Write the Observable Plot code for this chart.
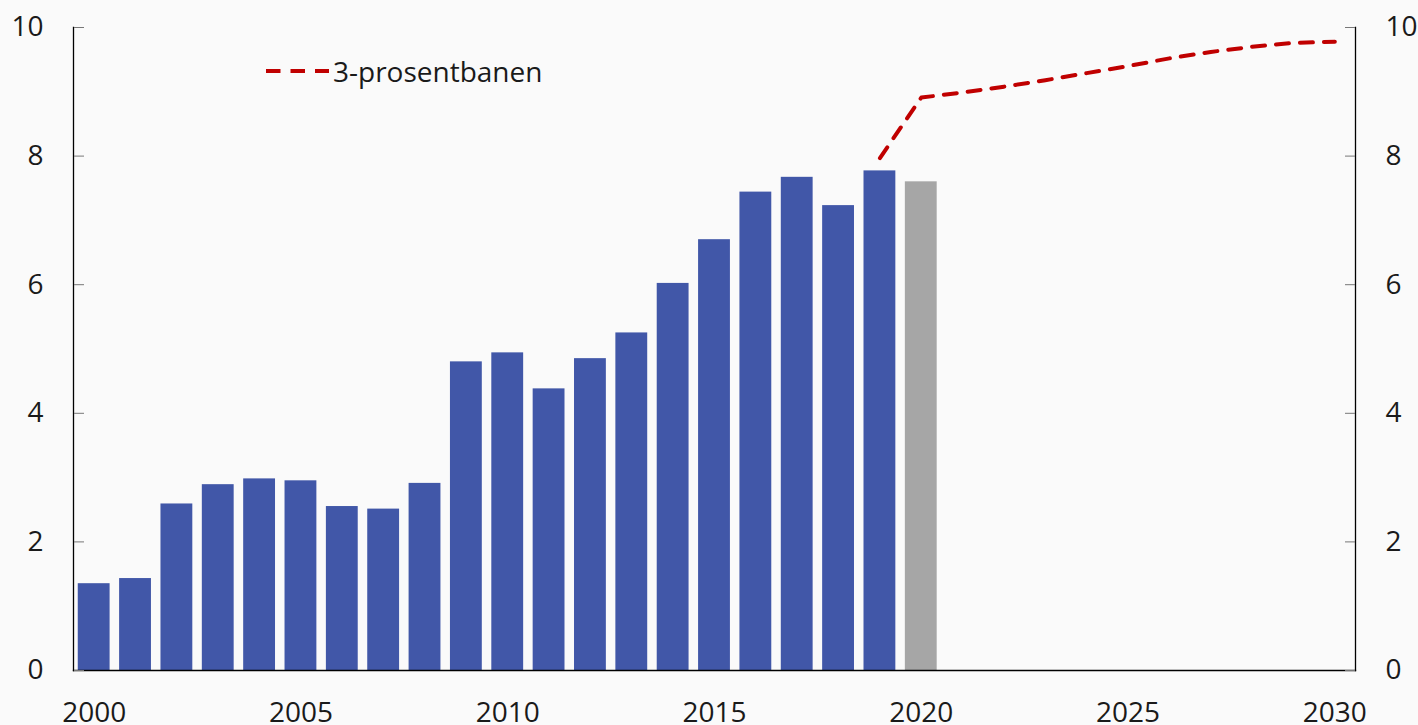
<!DOCTYPE html>
<html>
<head>
<meta charset="utf-8">
<script src="https://cdn.jsdelivr.net/npm/d3@7"></script>
<script src="https://cdn.jsdelivr.net/npm/@observablehq/plot@0.6"></script>
<style>
  html, body { margin: 0; padding: 0; background: #fafafa; }
  #wrap { position: relative; width: 1418px; height: 725px; font-family: "Open Sans", sans-serif; }
  #legend { position: absolute; left: 266px; top: 53px; height: 36px; display: flex; align-items: center; font-size: 28px; color: #1a1a1a; }
  #legend svg { display: block; margin-right: 4px; }
</style>
</head>
<body>
<div id="wrap">
  <div id="chart"></div>
  <div id="legend">
    <svg width="63" height="8"><line x1="0" y1="4" x2="63" y2="4" stroke="#c00000" stroke-width="4" stroke-dasharray="14.5,10"/></svg>
    <span>3-prosentbanen</span>
  </div>
</div>
<script>
// Data
const barYears = [2000, 2001, 2002, 2003, 2004, 2005, 2006, 2007, 2008, 2009, 2010,
                  2011, 2012, 2013, 2014, 2015, 2016, 2017, 2018, 2019];
const barValues = [1.35, 1.43, 2.59, 2.89, 2.98, 2.95, 2.55, 2.51, 2.91, 4.80, 4.94,
                   4.38, 4.85, 5.25, 6.02, 6.70, 7.44, 7.67, 7.23, 7.77];
const estYears = [2020];
const estValues = [7.60];
const pathYears = [2019, 2020, 2021, 2022, 2023, 2024, 2025, 2026, 2027, 2028, 2029, 2030];
const pathValues = [7.97, 8.91, 8.99, 9.08, 9.18, 9.29, 9.40, 9.52, 9.62, 9.70, 9.76, 9.78];
const allYears = [2000, 2001, 2002, 2003, 2004, 2005, 2006, 2007, 2008, 2009, 2010,
                  2011, 2012, 2013, 2014, 2015, 2016, 2017, 2018, 2019, 2020,
                  2021, 2022, 2023, 2024, 2025, 2026, 2027, 2028, 2029, 2030];
const xTicks = [2000, 2005, 2010, 2015, 2020, 2025, 2030];
const yTicks = [0, 2, 4, 6, 8, 10];

const bars = barYears.map((year, i) => ({year, value: barValues[i]}));
const est = estYears.map((year, i) => ({year, value: estValues[i]}));
const path = pathYears.map((year, i) => ({year, value: pathValues[i]}));

const W = 1418, H = 725, ML = 73, MR = 63, MT = 27, MB = 55;
const plotW = W - ML - MR;

const chart = Plot.plot({
  width: W, height: H,
  marginLeft: ML, marginRight: MR, marginTop: MT, marginBottom: MB,
  style: {background: "#fafafa", fontFamily: "Open Sans", fontSize: "28px", color: "#1a1a1a"},
  x: {type: "band", domain: allYears, paddingInner: 0.23, paddingOuter: 0.115, round: false, axis: null},
  y: {domain: [0, 10], axis: null},
  marks: [
    Plot.barY(bars, {x: "year", y: "value", fill: "#4157a8"}),
    Plot.barY(est, {x: "year", y: "value", fill: "#a6a6a6"}),
    Plot.line(path, {x: "year", y: "value", stroke: "#c00000", strokeWidth: 4, strokeDasharray: "13,11"}),
    Plot.frame({anchor: "left", stroke: "#000", strokeWidth: 1.3}),
    Plot.frame({anchor: "right", stroke: "#000", strokeWidth: 1.3}),
    Plot.frame({anchor: "bottom", stroke: "#000", strokeWidth: 1.3}),
    // inward ticks
    Plot.axisY(yTicks, {anchor: "right", tickSize: 10, fill: "none", stroke: "#777", dx: -plotW, label: null}),
    Plot.axisY(yTicks, {anchor: "left", tickSize: 10, fill: "none", stroke: "#777", dx: plotW, label: null}),
    // labels
    Plot.axisY(yTicks, {anchor: "left", tickSize: 0, tickPadding: 30, fontSize: 28, tickFormat: d3.format("d"), label: null}),
    Plot.axisY(yTicks, {anchor: "right", tickSize: 0, tickPadding: 30, fontSize: 28, tickFormat: d3.format("d"), label: null}),
    Plot.axisX(xTicks, {anchor: "bottom", tickSize: 0, tickPadding: 32, fontSize: 28, tickFormat: d3.format("d"), label: null})
  ]
});
document.getElementById("chart").appendChild(chart);
</script>
</body>
</html>
